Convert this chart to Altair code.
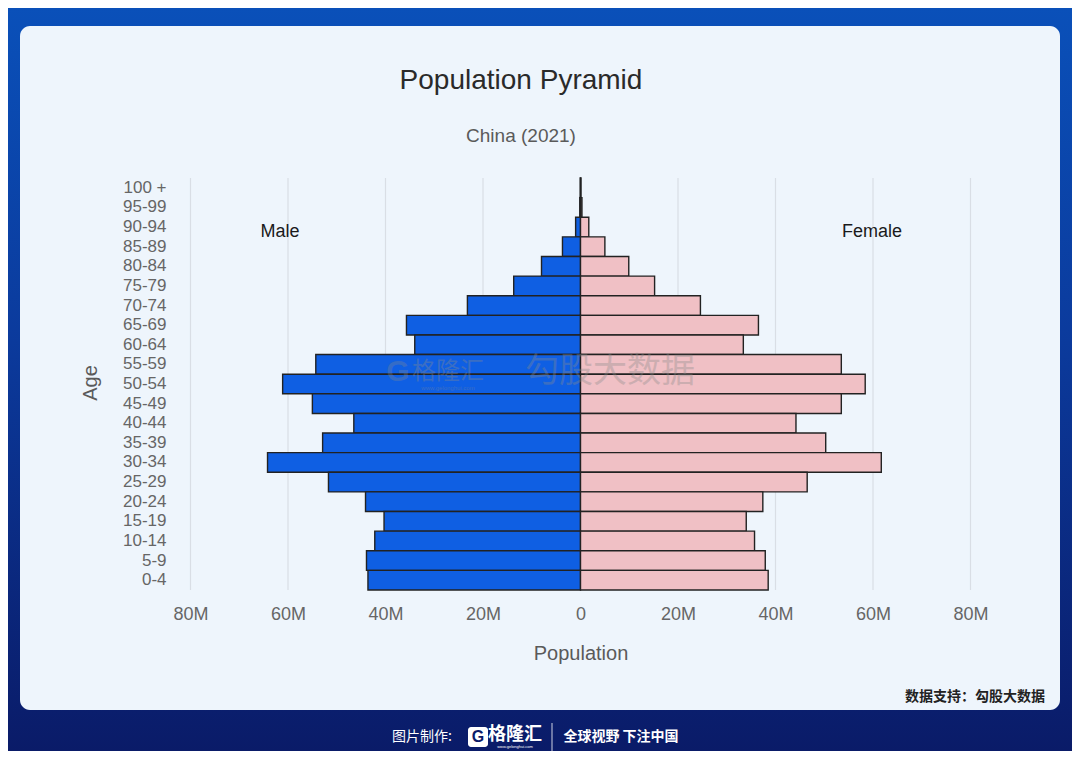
import altair as alt
import pandas as pd

ages = ["100 +", "95-99", "90-94", "85-89", "80-84", "75-79", "70-74", "65-69",
        "60-64", "55-59", "50-54", "45-49", "40-44", "35-39", "30-34", "25-29",
        "20-24", "15-19", "10-14", "5-9", "0-4"]
male = [0.05, 0.15, 1.0, 3.7, 8.0, 13.7, 23.2, 35.7, 34.0, 54.3, 61.1, 55.0,
        46.5, 52.9, 64.2, 51.7, 44.1, 40.3, 42.2, 43.9, 43.6]
female = [0.1, 0.3, 1.7, 5.0, 9.9, 15.2, 24.6, 36.5, 33.4, 53.5, 58.4, 53.5,
          44.2, 50.3, 61.7, 46.5, 37.4, 34.0, 35.7, 37.9, 38.5]
ticks = [-80, -60, -40, -20, 0, 20, 40, 60, 80]

rows = []
for a, m, f in zip(ages, male, female):
    rows.append({"age": a, "sex": "Male", "value": -m})
    rows.append({"age": a, "sex": "Female", "value": f})
df = pd.DataFrame(rows)
grid_df = pd.DataFrame({"t": ticks})

W, H = 819, 412
OX, OY = 171, 178  # page coords of plot origin (page = chart + 8)

def px(x):
    return x - OX

def py(y):
    return y - OY

xscale = alt.Scale(domain=[-84, 84], nice=False, zero=False)
yscale = alt.Scale(domain=ages, paddingInner=0, paddingOuter=0)

bg = alt.Chart(pd.DataFrame({"a": [0]})).mark_rect(
    color=alt.LinearGradient(
        gradient="linear", x1=0, y1=0, x2=0, y2=1,
        stops=[alt.GradientStop(offset=0, color="#0a50b9"),
               alt.GradientStop(offset=0.45, color="#0b3a9c"),
               alt.GradientStop(offset=1, color="#0a1b68")])
).encode(x=alt.value(px(8)), x2=alt.value(px(8 + 1064)),
         y=alt.value(py(8)), y2=alt.value(py(8 + 743)))

card = alt.Chart(pd.DataFrame({"a": [0]})).mark_rect(
    color="#eef5fc", cornerRadius=10
).encode(x=alt.value(px(20)), x2=alt.value(px(1060)),
         y=alt.value(py(26)), y2=alt.value(py(710)))

grid = alt.Chart(grid_df).mark_rule(color="#d9dee5", strokeWidth=1.2).encode(
    x=alt.X("t:Q", scale=xscale),
    y=alt.value(0), y2=alt.value(H)
)

bars = alt.Chart(df).mark_bar(stroke="#222222", strokeWidth=1.4).encode(
    x=alt.X("value:Q", scale=xscale,
            axis=alt.Axis(values=ticks, grid=False, ticks=False, domain=False,
                          labelExpr="datum.value == 0 ? '0' : abs(datum.value) + 'M'",
                          labelFontSize=18, labelColor="#666666", labelPadding=15,
                          labelFont="Liberation Sans",
                          title=None, zindex=1)),
    y=alt.Y("age:N", scale=yscale, sort=ages,
            axis=alt.Axis(ticks=False, domain=False, grid=False, labelFontSize=17,
                          labelColor="#666666", labelPadding=5,
                          labelFont="Liberation Sans",
                          title=None, zindex=1)),
    color=alt.Color("sex:N", scale=alt.Scale(domain=["Male", "Female"],
                                             range=["#0f5fe3", "#f0c0c5"]),
                    legend=None)
)

def txt(s, x, y, size, color, weight="normal", font="Liberation Sans", angle=0,
        align="center", opacity=1.0):
    kw = dict(text=s, fontSize=size, color=color, fontWeight=weight, font=font,
              align=align, baseline="middle", opacity=opacity)
    if angle:
        kw["angle"] = angle
    return alt.Chart(pd.DataFrame({"a": [0]})).mark_text(**kw).encode(
        x=alt.value(px(x)), y=alt.value(py(y)))

cjk = "Noto Sans CJK SC"
texts = [
    txt("Population Pyramid", 521, 81, 28, "#2a2a2a"),
    txt("China (2021)", 521, 136, 19, "#5a5a5a"),
    txt("Population", 581, 654, 20, "#5a5a5a"),
    txt("Age", 91, 383, 20, "#5a5a5a", angle=270),
    txt("Male", 280, 232, 18, "#1a1a1a"),
    txt("Female", 872, 232, 18, "#1a1a1a"),
    txt("格隆汇", 448, 372, 24, "#8a8a8a", font=cjk, opacity=0.35),
    txt("www.gelonghui.com", 448, 388, 6, "#8a8a8a", opacity=0.35),
    txt("勾股大数据", 610, 372, 34, "#8a8a8a", font=cjk, opacity=0.35),
    txt("G", 398, 372, 30, "#8a8a8a", weight="bold", opacity=0.3),
    txt("数据支持：勾股大数据", 1045, 697, 14, "#222222", weight="bold", font=cjk,
        align="right"),
    txt("图片制作:", 422, 737, 14, "#ffffff", font=cjk),
    txt("格隆汇", 515, 735, 18, "#ffffff", weight="bold", font=cjk),
    txt("www.gelonghui.com", 515, 747, 4, "#ffffff"),
    txt("全球视野 下注中国", 621, 737, 14, "#ffffff", weight="bold", font=cjk),
]

logo_box = alt.Chart(pd.DataFrame({"a": [0]})).mark_rect(
    color="#ffffff", cornerRadius=3
).encode(x=alt.value(px(468)), x2=alt.value(px(488)),
         y=alt.value(py(727)), y2=alt.value(py(747)))
logo_g = txt("G", 478, 737, 16, "#0a1b68", weight="bold")
divider = alt.Chart(pd.DataFrame({"a": [0]})).mark_rule(
    color="#ffffff", strokeWidth=1, opacity=0.8
).encode(x=alt.value(px(552)), y=alt.value(py(723)), y2=alt.value(py(751)))

chart = alt.layer(bg, card, grid, bars, *texts, logo_box, logo_g, divider).properties(
    width=W, height=H,
    padding={"left": OX - 8, "top": OY - 8, "right": 1064 - (OX - 8) - W,
             "bottom": 743 - (OY - 8) - H},
    autosize=alt.AutoSizeParams(type="none")
).configure_view(stroke=None).configure(background="#0a1b68")

chart.save("out.html", embed_options={"renderer": "svg", "actions": False})
